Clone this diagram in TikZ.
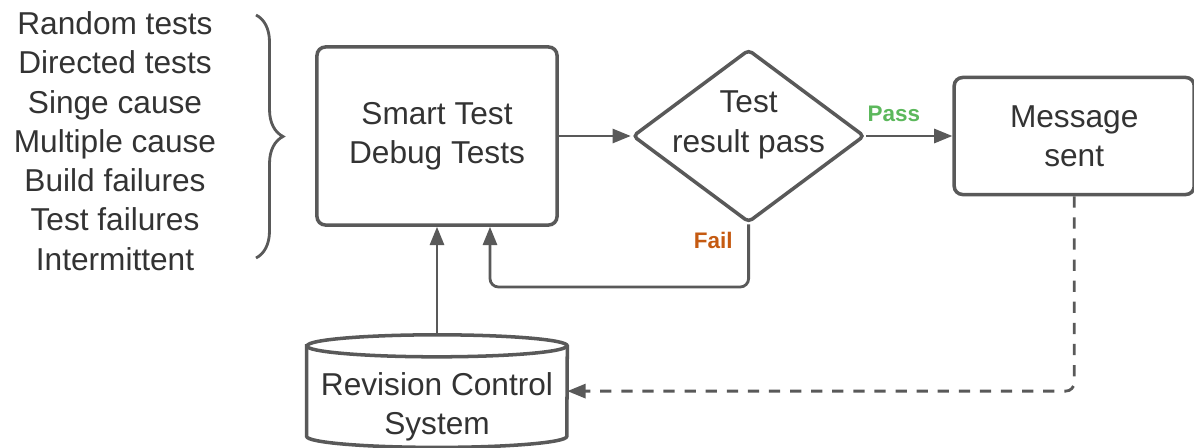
\documentclass[tikz,border=0pt]{standalone}
\usepackage{fontspec}
\setmainfont{Liberation Sans}
\usetikzlibrary{positioning, arrows.meta, shapes.geometric, decorations.pathreplacing}
\definecolor{linegray}{HTML}{595959}
\definecolor{textgray}{HTML}{333333}
\definecolor{passgreen}{HTML}{5CB85C}
\definecolor{failorange}{HTML}{C55A11}

\begin{document}
\begin{tikzpicture}[
  x=0.025cm, y=-0.025cm,
  font=\fontsize{22.5}{28}\selectfont, text=textgray,
  process/.style={draw=linegray, line width=2.5pt, rounded corners=6pt,
                  minimum width=6cm, align=center},
  decision/.style={diamond, draw=linegray, line width=2.5pt, rounded corners=3pt,
                   minimum width=5.8cm, minimum height=4.325cm, inner sep=0pt},
  store/.style={inner sep=0pt, minimum width=6.5cm, minimum height=2.8cm},
  rim/.style={linegray, line width=2.5pt},
  arrow/.style={-{Triangle[length=13pt,width=10pt]}, draw=linegray, line width=2pt},
  tag/.style={font=\fontsize{16}{19}\bfseries\selectfont}
]
\useasboundingbox (0,0) rectangle (1194,447);

\node[align=center, font=\fontsize{22.5}{27.9}\selectfont] (cases) at (115,141)
  {Random tests\\Directed tests\\Singe cause\\Multiple cause\\Build failures\\Test failures\\Intermittent};
\draw[linegray, line width=2pt, decorate, decoration={brace, amplitude=0.675cm}]
  (256,15) -- (256,258);

\node[process, minimum height=4.45cm] (debug) at (437,136) {Smart Test\\Debug Tests};
\node[decision, right=1.8cm of debug,
      label={[yshift=0.28cm, align=center]center:Test\\result pass}] (check) {};
\node[process, right=2.15cm of check, minimum height=2.925cm] (message) {Message\\sent};
\node[store, below=2.7cm of debug,
      label={[yshift=-0.4cm, align=center]center:Revision Control\\System}] (repo) {};

% database drum
\draw[rim] ([yshift=-0.275cm]repo.north west) -- ([yshift=0.275cm]repo.south west)
  arc[start angle=180, end angle=360, x radius=3.25cm, y radius=0.275cm]
  -- ([yshift=-0.275cm]repo.north east)
  arc[start angle=0, end angle=180, x radius=3.25cm, y radius=0.275cm] -- cycle;
\draw[rim] ([yshift=-0.275cm]repo.north west)
  arc[start angle=180, end angle=360, x radius=3.25cm, y radius=0.275cm];

\coordinate (loop) at (490,287);

\draw[arrow] (debug) -- (check);
\draw[arrow] (check) -- node[tag, text=passgreen, above=6pt, pos=0.32] {Pass} (message);
\draw[arrow, rounded corners=6pt] (check.south) |- node[tag, text=failorange, left=7pt, pos=0.13] {Fail} (loop) -- (loop |- debug.south);
\draw[arrow] (repo) -- (debug);
\draw[arrow, dash pattern=on 8pt off 7pt, rounded corners=6pt] (message.south) |- (repo);
\end{tikzpicture}
\end{document}
